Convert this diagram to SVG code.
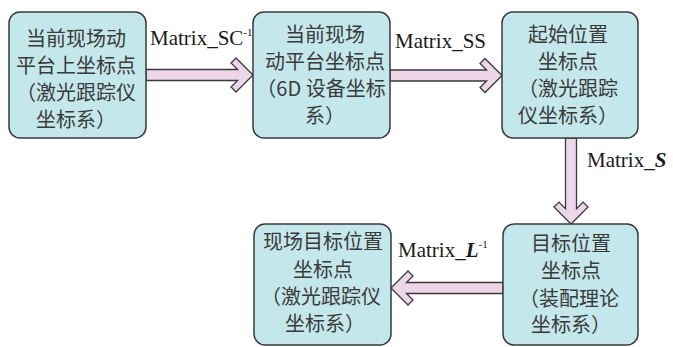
<svg xmlns="http://www.w3.org/2000/svg" width="673" height="347" viewBox="0 0 673 347">
<style>
.box{fill:#c4e7eb;stroke:#3a3a3a;stroke-width:1.5}
.arr{fill:#ecd6e8;stroke:#3a3a3a;stroke-width:1.3;stroke-linejoin:miter}
.cn{font-family:"Noto Sans CJK SC","Noto Sans",sans-serif;font-size:20px;fill:#3a3a3a;text-anchor:middle}
.lb{font-family:"Liberation Serif","Times New Roman",serif;font-size:21px;fill:#1a1a1a}
.sup{font-size:11px}
.bi{font-weight:bold;font-style:italic}
</style>
<rect width="673" height="347" fill="#ffffff"/>
<g id="connectors">
<polygon class="arr" points="146,69.5 237.6,69.5 231.05,62.95 236,58 253,75 236,92 231.05,87.05 237.6,80.5 146,80.5"/>
<polygon class="arr" points="390,70 486.6,70 480.05,63.45 485,58.5 502,75.5 485,92.5 480.05,87.55 486.6,81 390,81"/>
<polygon class="arr" points="565.5,138 565.5,208.6 558.95,202.05 554,207 571,224 588,207 583.05,202.05 576.5,208.6 576.5,138"/>
<polygon class="arr" points="503,282.5 406.4,282.5 412.95,275.95 408,271 391,288 408,305 412.95,300.05 406.4,293.5 503,293.5"/>
<text class="lb" x="150" y="45">Matrix_SC<tspan class="sup" dy="-9">-1</tspan></text>
<text class="lb" x="395" y="48">Matrix_SS</text>
<text class="lb" x="587" y="167">Matrix_<tspan class="bi">S</tspan></text>
<text class="lb" x="398" y="257">Matrix_<tspan class="bi">L</tspan><tspan class="sup" dy="-9">-1</tspan></text>
</g>
<g id="node1">
<rect class="box" x="9" y="12" width="137" height="126" rx="11"/>
<text class="cn" x="76" y="45.5">当前现场动</text>
<text class="cn" x="76" y="72.5">平台上坐标点</text>
<text class="cn" x="76" y="100">（激光跟踪仪</text>
<text class="cn" x="76" y="127">坐标系）</text>
</g>
<g id="node2">
<rect class="box" x="253" y="12" width="137" height="126" rx="11"/>
<text class="cn" x="325" y="41.5">当前现场</text>
<text class="cn" x="325" y="68.5">动平台坐标点</text>
<text class="cn" x="321" y="96">（6D 设备坐标</text>
<text class="cn" x="325" y="123">系）</text>
</g>
<g id="node3">
<rect class="box" x="502" y="12" width="136" height="126" rx="11"/>
<text class="cn" x="568" y="41.5">起始位置</text>
<text class="cn" x="568" y="68.5">坐标点</text>
<text class="cn" x="568" y="96">（激光跟踪</text>
<text class="cn" x="568" y="123">仪坐标系）</text>
</g>
<g id="node4">
<rect class="box" x="503" y="224" width="135" height="121" rx="11"/>
<text class="cn" x="571" y="251">目标位置</text>
<text class="cn" x="571" y="278">坐标点</text>
<text class="cn" x="569" y="305.5">（装配理论</text>
<text class="cn" x="571" y="332">坐标系）</text>
</g>
<g id="node5">
<rect class="box" x="254" y="224" width="137" height="121" rx="11"/>
<text class="cn" x="323" y="249">现场目标位置</text>
<text class="cn" x="323" y="276.5">坐标点</text>
<text class="cn" x="321" y="304">（激光跟踪仪</text>
<text class="cn" x="325" y="331">坐标系）</text>
</g>
</svg>
